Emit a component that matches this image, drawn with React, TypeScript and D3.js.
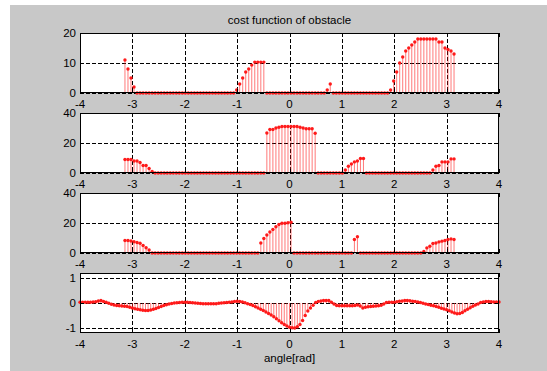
import * as d3 from "d3";

// sampling grids (angles)
const N_OBS = 110;
const OBS_ANGLES = d3.range(N_OBS).map((i) => -Math.PI + (i * 2 * Math.PI) / (N_OBS - 1));
const SUM_ANGLES = d3.range(161).map((i) => -4 + i * 0.05);

const COST_1 = [
  11, 8, 5, 2,
  0, 0, 0, 0, 0, 0, 0, 0, 0, 0, 0, 0, 0, 0, 0, 0, 0, 0, 0, 0, 0, 0, 0, 0, 0, 0, 0, 0, 0, 0, 0, 0, 0,
  1, 3, 5, 7, 8, 9.3, 10.3, 10.3, 10.3, 10.3,
  0, 0, 0, 0, 0, 0, 0, 0, 0, 0, 0, 0, 0, 0, 0, 0, 0, 0, 0, 0,
  1, 3,
  0, 0, 0, 0, 0, 0, 0, 0, 0, 0, 0, 0, 0, 0, 0, 0, 0, 0, 0,
  1, 4, 7, 10, 12, 14, 15, 16, 17, 18, 18, 18, 18, 18, 18, 18, 17, 17, 15, 14.5, 14, 13,
];

const COST_2 = [
  9, 9, 9, 8, 8, 7, 5, 5, 3, 1,
  0, 0, 0, 0, 0, 0, 0, 0, 0, 0, 0, 0, 0, 0, 0, 0, 0, 0, 0, 0, 0, 0, 0, 0, 0, 0, 0, 0, 0, 0, 0, 0, 0, 0, 0, 0, 0,
  26.7, 29, 29, 30, 30.5, 31, 31, 31, 31, 31, 31, 30.5, 30, 29.5, 29.5, 29.5, 26.5,
  0, 0, 0, 0, 0, 0, 0, 0, 0,
  2, 4.5, 6, 7.4, 8, 9.7, 9.7,
  0, 0, 0, 0, 0, 0, 0, 0, 0, 0, 0, 0, 0, 0, 0, 0, 0, 0, 0, 0, 0, 0,
  2, 4.5, 5, 7.4, 7.4, 7.4, 9.4, 9.4,
];

const COST_3 = [
  8.3, 8.3, 8, 7.5, 7, 6.5, 5, 3.5, 2,
  0, 0, 0, 0, 0, 0, 0, 0, 0, 0, 0, 0, 0, 0, 0, 0, 0, 0, 0, 0, 0, 0, 0, 0, 0, 0, 0, 0, 0, 0, 0, 0, 0, 0, 0, 0,
  6.7, 9.7, 12, 14, 15.7, 17.5, 19, 19.8, 19.8, 20.2, 20.5,
  0, 0, 0, 0, 0, 0, 0, 0, 0, 0, 0, 0, 0, 0, 0, 0, 0, 0, 0, 0,
  9, 10.8,
  0, 0, 0, 0, 0, 0, 0, 0, 0, 0, 0, 0, 0, 0, 0, 0, 0, 0, 0, 0, 0,
  1, 3.4, 4.5, 6.3, 6.7, 7.4, 7.9, 8.3, 9, 9.4, 9,
];

const COST_SUM = [
  0.03, 0.03, 0.03, 0.03, 0.03, 0.04, 0.05, 0.08, 0.1, 0.06,
  0.03, -0.01, -0.05, -0.08, -0.1, -0.11, -0.12, -0.13, -0.14, -0.17,
  -0.2, -0.23, -0.25, -0.27, -0.29, -0.3, -0.3, -0.28, -0.25, -0.22,
  -0.18, -0.14, -0.1, -0.07, -0.04, -0.02, 0, 0.01, 0.02, 0.03,
  0.03, 0.03, 0.02, 0.01, 0, -0.01, -0.02, -0.03, -0.03, -0.03,
  -0.03, -0.03, -0.03, -0.01, 0, 0.01, 0.02, 0.03, 0.04, 0.06,
  0.07, 0.06, 0.04, 0.01, -0.03, -0.06, -0.1, -0.15, -0.2, -0.25,
  -0.3, -0.36, -0.42, -0.48, -0.55, -0.63, -0.71, -0.79, -0.86, -0.92,
  -0.97, -0.99, -1.0, -0.95, -0.86, -0.7, -0.5, -0.32, -0.2, -0.09,
  0.02, 0.06, 0.08, 0.1, 0.1, 0.1, 0.03, -0.04, -0.1, -0.11,
  -0.11, -0.11, -0.11, -0.11, -0.11, -0.1, -0.08, -0.12, -0.2, -0.17,
  -0.15, -0.14, -0.13, -0.12, -0.11, -0.09, -0.04, 0.02, 0.03, 0.03,
  0.03, 0.05, 0.07, 0.08, 0.1, 0.1, 0.09, 0.07, 0.06, 0.04,
  0.02, -0.01, -0.04, -0.06, -0.09, -0.11, -0.14, -0.17, -0.21, -0.24,
  -0.27, -0.31, -0.36, -0.4, -0.43, -0.42, -0.38, -0.31, -0.25, -0.19,
  -0.13, -0.08, -0.04, 0.02, 0.04, 0.06, 0.06, 0.05, 0.04, 0.04,
  0.04,
];

const X_TICKS = [-4, -3, -2, -1, 0, 1, 2, 3, 4];
const TITLE = "cost function of obstacle";
const X_LABEL = "angle[rad]";

const PANELS = [
  { xs: OBS_ANGLES, ys: COST_1, domain: [0, 20], ticks: [0, 10, 20] },
  { xs: OBS_ANGLES, ys: COST_2, domain: [0, 40], ticks: [0, 20, 40] },
  { xs: OBS_ANGLES, ys: COST_3, domain: [0, 40], ticks: [0, 20, 40] },
  { xs: SUM_ANGLES, ys: COST_SUM, domain: [-1.2, 1.2], ticks: [-1, 0, 1] },
];

const W = 547;
const H = 371;
const LEFT = 80;
const RIGHT = 499;
const TOPS = [33, 113, 193, 273];
const PH = 60;
const FONT = "'Liberation Sans', Arial, sans-serif";

function Panel({ idx }: { idx: number }) {
  const p = PANELS[idx];
  const top = TOPS[idx];
  const x = d3.scaleLinear().domain([-4, 4]).range([LEFT, RIGHT]);
  const y = d3.scaleLinear().domain(p.domain).range([top + PH, top]);
  const base = y(Math.max(p.domain[0], 0));
  const px = (v: number) => Math.round(v) + 0.5;

  return (
    <g>
      <rect x={LEFT} y={top} width={RIGHT - LEFT} height={PH} fill="#fff" />
      {/* grid */}
      {X_TICKS.slice(1, -1).map((t) => (
        <line key={"gx" + t} x1={px(x(t))} x2={px(x(t))} y1={top} y2={top + PH}
          stroke="#000" strokeWidth={1} strokeDasharray="4,2" />
      ))}
      {p.ticks.map((t) => (
        <line key={"gy" + t} x1={LEFT} x2={RIGHT} y1={px(y(t))} y2={px(y(t))}
          stroke="#000" strokeWidth={1} strokeDasharray="4,2" />
      ))}
      {/* stems */}
      {p.ys.map((v, i) => (
        <line key={"s" + i} x1={p.xs[i] !== undefined ? x(p.xs[i]) : 0} x2={x(p.xs[i])}
          y1={base} y2={y(v)} stroke="#ff2020" strokeOpacity={0.6} strokeWidth={1} />
      ))}
      {p.ys.map((v, i) => (
        <circle key={"m" + i} cx={x(p.xs[i])} cy={y(v)} r={1.7} fill="#ff1a1a" />
      ))}
      {/* box */}
      <rect x={LEFT + 0.5} y={top + 0.5} width={RIGHT - LEFT - 1} height={PH - 1}
        fill="none" stroke="#000" strokeWidth={1} />
      {/* ticks */}
      {X_TICKS.map((t) => (
        <g key={"tx" + t}>
          <line x1={px(x(t))} x2={px(x(t))} y1={top + PH} y2={top + PH - 4} stroke="#000" />
          <line x1={px(x(t))} x2={px(x(t))} y1={top} y2={top + 4} stroke="#000" />
          <text x={x(t)} y={top + PH + 15} textAnchor="middle" fontSize={11.5} fontFamily={FONT}>
            {t}
          </text>
        </g>
      ))}
      {p.ticks.map((t) => (
        <g key={"ty" + t}>
          <line x1={LEFT} x2={LEFT + 4} y1={px(y(t))} y2={px(y(t))} stroke="#000" />
          <line x1={RIGHT - 4} x2={RIGHT} y1={px(y(t))} y2={px(y(t))} stroke="#000" />
          <text x={LEFT - 4} y={y(t) + 4} textAnchor="end" fontSize={11.5} fontFamily={FONT}>
            {t}
          </text>
        </g>
      ))}
    </g>
  );
}

export default function App() {
  return (
    <svg width={W} height={H} style={{ display: "block", position: "absolute", left: 0, top: 0 }}>
      <rect x={0} y={0} width={W} height={H} fill="#fff" />
      <rect x={10} y={5} width={W - 10} height={H - 5} fill="#c8c8c8" />
      <text x={(LEFT + RIGHT) / 2} y={24} textAnchor="middle" fontSize={11.5} fontFamily={FONT}>
        {TITLE}
      </text>
      {PANELS.map((_, i) => (
        <Panel key={i} idx={i} />
      ))}
      <text x={(LEFT + RIGHT) / 2} y={362} textAnchor="middle" fontSize={11.5} fontFamily={FONT}>
        {X_LABEL}
      </text>
    </svg>
  );
}
